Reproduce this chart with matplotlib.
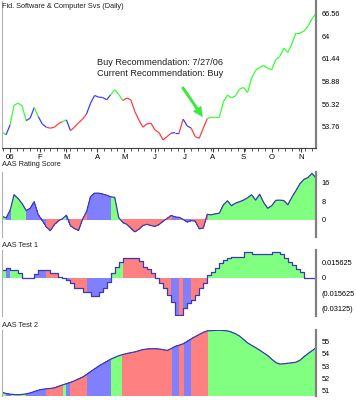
import numpy as np
import pandas as pd
import matplotlib
matplotlib.use("Agg")
import matplotlib.pyplot as plt
from matplotlib.collections import LineCollection

plt.rcParams['font.family'] = ['Liberation Sans', 'DejaVu Sans']

# trading days shown on the chart, one sample every 3rd day
days = pd.bdate_range("2005-12-23", periods=236)
dates = days[::3]

# colour state of the rating (G = buy, B = neutral, R = sell), run lengths in samples
state_runs = [("G", 1), ("B", 1), ("G", 4), ("B", 2), ("G", 1), ("B", 2), ("R", 4),
              ("G", 1), ("B", 1), ("R", 4), ("B", 6), ("G", 3), ("R", 12), ("B", 2),
              ("R", 1), ("B", 2), ("R", 4), ("G", 28)]

price = [53.16, 52.82, 53.95, 56.19, 56.42, 56.11, 54.44, 54.72, 55.92, 54.90,
         54.07, 53.69, 53.58, 53.69, 54.07, 54.33, 54.52, 53.31, 53.69, 54.18,
         54.60, 55.20, 56.42, 57.29, 57.10, 57.06, 56.80, 57.37, 57.93, 57.40,
         56.72, 57.00, 56.80, 55.47, 54.52, 53.69, 54.07, 54.15, 53.38, 53.08,
         52.25, 52.62, 53.01, 53.08, 53.08, 54.60, 53.84, 53.58, 52.62, 52.44,
         53.58, 54.67, 54.83, 54.83, 54.83, 56.60, 57.33, 57.02, 57.25, 58.01,
         58.20, 57.63, 59.27, 60.13, 60.47, 60.70, 60.36, 60.21, 61.35, 61.72,
         62.63, 62.18, 63.13, 64.38, 64.38, 64.57, 65.14, 65.98, 66.58]

rating = [1.6, 0.8, 4.0, 10.8, 9.2, 7.0, 4.0, 5.0, 7.8, 2.2,
          -0.2, -3.0, -4.6, -2.0, -0.4, 0.5, 2.0, -2.5, -3.7, -4.5,
          0.2, 3.5, 10.0, 11.5, 11.5, 11.1, 10.6, 9.9, 9.7, 1.0,
          -1.1, -1.9, -3.5, -5.1, -4.0, -2.4, -1.9, -2.4, -2.8, -2.0,
          -0.6, 0.6, 1.9, 1.3, 1.1, 0.2, -0.9, -0.3, -0.5, -3.8,
          -3.5, 2.4, 2.2, 2.6, 2.9, 6.5, 8.2, 6.1, 7.2, 7.8,
          8.5, 9.5, 10.8, 8.5, 11.0, 7.5, 5.0, 6.1, 8.4, 8.5,
          8.3, 6.5, 9.7, 12.5, 15.5, 17.4, 18.2, 20.0, 18.0]

# AAS Test 1 in units of 0.015625
test1_units = [0.495, 0.6, 0.495, 0.495, 0.28, 0.0, 0.0, 0.0, 0.215, 0.495,
               0.495, 0.495, 0.28, 0.28, 0.065, 0.0, -0.15, -0.366, -0.645, -0.645,
               -0.9, -0.9, -1.16, -1.16, -0.9, -0.645, -0.26, 0.28, 0.71, 0.99,
               1.25, 1.25, 1.25, 1.25, 1.075, 0.71, 0.56, 0.28, -0.04, -0.366,
               -0.69, -1.12, -1.55, -2.41, -2.41, -1.98, -1.66, -1.44, -1.12, -0.69,
               -0.366, 0.17, 0.39, 0.645, 0.925, 1.14, 1.25, 1.355, 1.355, 1.355,
               1.68, 1.68, 1.5, 1.5, 1.5, 1.5, 1.5, 1.68, 1.68, 1.5,
               1.25, 1.03, 0.82, 0.56, 0.39, 0.0, 0.0, 0.0, 0.0]

test2 = [50.88, 50.77, 50.72, 50.69, 50.67, 50.70, 50.74, 50.82, 50.93, 51.04,
         51.11, 51.15, 51.19, 51.23, 51.35, 51.47, 51.57, 51.67, 51.81, 51.96,
         52.10, 52.32, 52.56, 52.78, 53.00, 53.20, 53.38, 53.57, 53.71, 53.85,
         53.95, 54.03, 54.10, 54.16, 54.26, 54.35, 54.40, 54.42, 54.43, 54.40,
         54.35, 54.28, 54.43, 54.61, 54.71, 54.82, 55.02, 55.22, 55.41, 55.59,
         55.76, 55.88, 55.90, 55.92, 55.93, 55.91, 55.88, 55.78, 55.64, 55.46,
         55.18, 54.90, 54.70, 54.51, 54.31, 54.08, 53.87, 53.57, 53.30, 53.17,
         53.20, 53.24, 53.28, 53.32, 53.48, 53.77, 54.02, 54.26, 54.50]

price_ticks = [53.76, 56.32, 58.88, 61.44, 64, 66.56]
rating_ticks = [0, 8, 16]
test1_ticks = [-0.03125, -0.015625, 0, 0.015625]
test1_labels = ["(0.03125)", "(0.015625", "0", "0.015625"]
test2_ticks = [51, 52, 53, 54, 55]

line_col = {"G": "#33ff33", "B": "#3c3cff", "R": "#ff3c3c"}
fill_col = {"G": "#80ff80", "B": "#8080ff", "R": "#ff8080"}
edge = "#3a3ab8"

state = np.array([s for s, n in state_runs for _ in range(n)])
x = np.arange(len(dates)) * 3
test1 = np.array(test1_units) * 0.015625

W, H = 356, 400
fig = plt.figure(figsize=(W / 100, H / 100), dpi=100)


def rect(top, bottom):
    return [2 / W, 1 - bottom / H, 314 / W, (bottom - top) / H]


ax1 = fig.add_axes(rect(1, 148.3))
ax2 = fig.add_axes(rect(171.7, 236.7))
ax3 = fig.add_axes(rect(250, 315.7))
ax4 = fig.add_axes(rect(330, 396))

for ax in (ax1, ax2, ax3, ax4):
    ax.set_xlim(0, x[-1])
    for s in ("top", "bottom"):
        ax.spines[s].set_visible(False)
    ax.spines["left"].set_color("#b0b0b0")
    ax.spines["left"].set_linewidth(0.8)
    ax.spines["right"].set_color("#808080")
    ax.spines["right"].set_linewidth(1.6)
    ax.yaxis.tick_right()
    ax.tick_params(axis="y", length=0, pad=4, labelsize=5.3)
    ax.set_xticks([])


def fill_states(ax, y, base, step=None):
    for c in "GBR":
        m = state == c
        m_ext = m | np.r_[False, m[:-1]]
        ax.fill_between(x, base, y, where=m_ext, color=fill_col[c], lw=0,
                        step=step, antialiased=False)


# price panel
pts = np.column_stack([x, price])
segs = np.stack([pts[:-1], pts[1:]], axis=1)
lc = LineCollection(segs, colors=[line_col[s] for s in state[:-1]], linewidths=0.9)
ax1.add_collection(lc)
ax1.set_ylim(51.3, 68.0)
ax1.set_yticks(price_ticks)
ax1.set_yticklabels([f"{t:g}" for t in price_ticks])
ax1.spines["bottom"].set_visible(True)
ax1.spines["bottom"].set_color("#404040")

month_pos = [i for i in range(1, len(days)) if days[i].month != days[i - 1].month]
month_lab = ["06" if days[i].month == 1 else days[i].strftime("%b")[0] for i in month_pos]
ax1.set_xticks(month_pos)
ax1.set_xticklabels(month_lab)
ax1.set_xticks([i for i in range(len(days)) if days[i].weekday() == 0 and i <= x[-1]], minor=True)
ax1.tick_params(axis="x", which="major", length=3, pad=1, labelsize=5.6, color="#404040")
ax1.tick_params(axis="x", which="minor", length=2, color="#404040")

ax1.text(0.503, 0.545, "Buy Recommendation: 7/27/06\nCurrent Recommendation: Buy",
         transform=ax1.transAxes, ha="center", va="center", fontsize=6.6,
         linespacing=1.3, color="#202020")
ax1.annotate("", xy=(x[50], 54.75), xytext=(x[45], 58.1),
             arrowprops=dict(facecolor="#8a8a8a", edgecolor="none", width=2.0,
                             headwidth=7, headlength=7, alpha=0.35))
ax1.annotate("", xy=(x[50] - 0.6, 54.9), xytext=(x[45] - 0.6, 58.25),
             arrowprops=dict(facecolor="#33ee33", edgecolor="none", width=2.0,
                             headwidth=7, headlength=7))

# AAS rating score
fill_states(ax2, rating, 0)
ax2.plot(x, rating, color=edge, lw=0.9)
ax2.set_ylim(-7.2, 20.7)
ax2.set_yticks(rating_ticks)

# AAS test 1
fill_states(ax3, test1, 0, step="post")
ax3.plot(x, test1, color=edge, lw=0.9, drawstyle="steps-post")
ax3.set_ylim(-0.0383, 0.0279)
ax3.set_yticks(test1_ticks)
ax3.set_yticklabels(test1_labels)

# AAS test 2
fill_states(ax4, test2, 50.0)
ax4.plot(x, test2, color=edge, lw=0.9)
ax4.set_ylim(50.57, 55.95)
ax4.set_yticks(test2_ticks)

txt = dict(fontsize=5.3, ha="left", va="center", color="#202020")
fig.text(2 / W, 1 - 6 / H, "Fid. Software & Computer Svs (Daily)", **txt)
fig.text(2 / W, 1 - 165 / H, "AAS Rating Score", **txt)
fig.text(2 / W, 1 - 245.5 / H, "AAS Test 1", **txt)
fig.text(2 / W, 1 - 325.5 / H, "AAS Test 2", **txt)

fig.savefig("out.png", dpi=100)
